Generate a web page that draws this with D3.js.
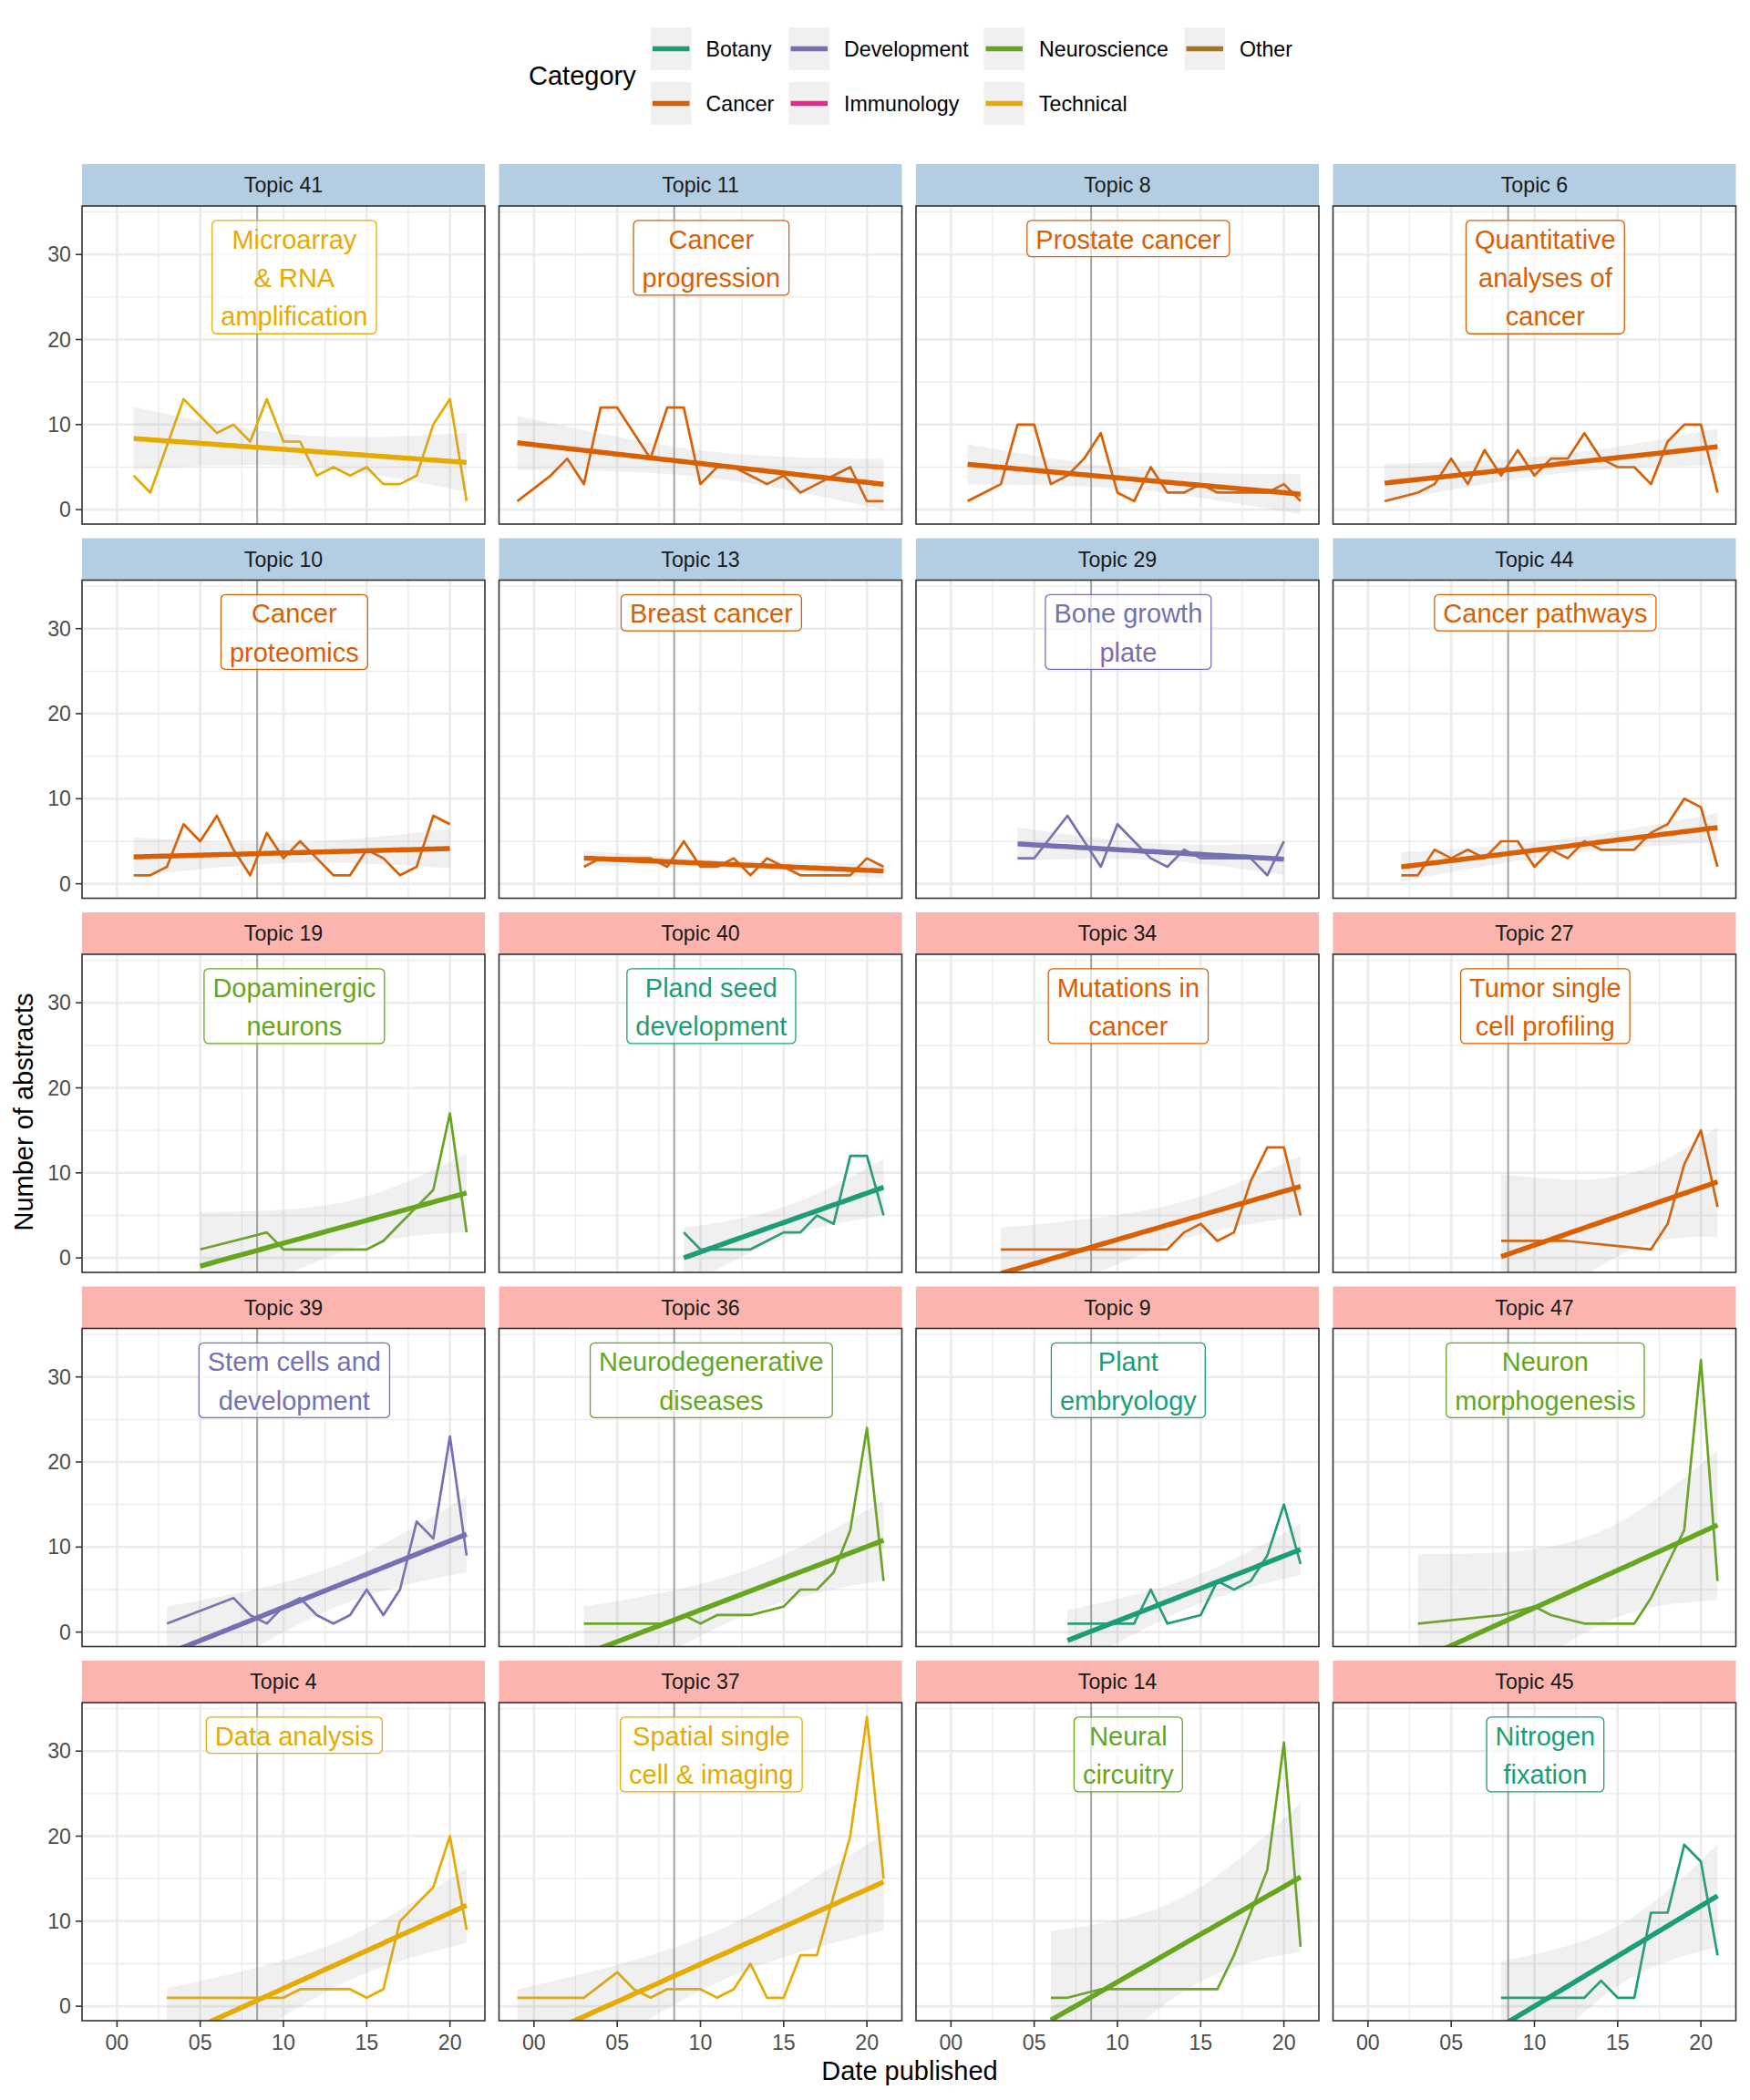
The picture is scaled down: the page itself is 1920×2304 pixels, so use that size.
<!DOCTYPE html>
<html><head><meta charset="utf-8">
<script src="https://cdn.jsdelivr.net/npm/d3@7"></script>
<style>
body{margin:0;background:#fff}
svg text{font-family:"Liberation Sans",Arial,Helvetica,sans-serif}
</style>
</head><body>
<svg id="chart" width="1920" height="2304"></svg>
<script>
// ---------------- DATA ----------------
const categories = ["Botany","Development","Neuroscience","Other","Cancer","Immunology","Technical"];
const categoryColors = ["#1B9E77","#7570B3","#66A61E","#A6761D","#D95F02","#E7298A","#E6AB02"];
const legendColumns = [["Botany","Cancer"],["Development","Immunology"],["Neuroscience","Technical"],["Other"]];

const topics = ["Topic 41","Topic 11","Topic 8","Topic 6",
                "Topic 10","Topic 13","Topic 29","Topic 44",
                "Topic 19","Topic 40","Topic 34","Topic 27",
                "Topic 39","Topic 36","Topic 9","Topic 47",
                "Topic 4","Topic 37","Topic 14","Topic 45"];
const topicLabels = ["Microarray\n& RNA\namplification","Cancer\nprogression","Prostate cancer","Quantitative\nanalyses of\ncancer",
                     "Cancer\nproteomics","Breast cancer","Bone growth\nplate","Cancer pathways",
                     "Dopaminergic\nneurons","Pland seed\ndevelopment","Mutations in\ncancer","Tumor single\ncell profiling",
                     "Stem cells and\ndevelopment","Neurodegenerative\ndiseases","Plant\nembryology","Neuron\nmorphogenesis",
                     "Data analysis","Spatial single\ncell & imaging","Neural\ncircuitry","Nitrogen\nfixation"];
const topicCategories = ["Technical","Cancer","Cancer","Cancer",
                         "Cancer","Cancer","Development","Cancer",
                         "Neuroscience","Botany","Cancer","Cancer",
                         "Development","Neuroscience","Botany","Neuroscience",
                         "Technical","Technical","Neuroscience","Botany"];
const topicGroups = [0,0,0,0, 0,0,0,0, 1,1,1,1, 1,1,1,1, 1,1,1,1];
const stripFills = ["#B3CDE3","#FBB4AE"];

// [year since 2000, number of abstracts]
const topic41 = [[1,4],[2,2],[4,13],[5,11],[6,9],[7,10],[8,8],[9,13],[10,8],[11,8],[12,4],[13,5],[14,4],[15,5],[16,3],[17,3],[18,4],[19,10],[20,13],[21,1]];
const topic11 = [[-1,1],[1,4],[2,6],[3,3],[4,12],[5,12],[6,9],[7,6],[8,12],[9,12],[10,3],[11,5],[12,5],[13,4],[14,3],[15,4],[16,2],[17,3],[18,4],[19,5],[20,1],[21,1]];
const topic8  = [[1,1],[2,2],[3,3],[4,10],[5,10],[6,3],[7,4],[8,6],[9,9],[10,2],[11,1],[12,5],[13,2],[14,2],[15,3],[16,2],[17,2],[18,2],[19,2],[20,3],[21,1]];
const topic6  = [[1,1],[3,2],[4,3],[5,6],[6,3],[7,7],[8,4],[9,7],[10,4],[11,6],[12,6],[13,9],[14,6],[15,5],[16,5],[17,3],[18,8],[19,10],[20,10],[21,2]];
const topic10 = [[1,1],[2,1],[3,2],[4,7],[5,5],[6,8],[7,4],[8,1],[9,6],[10,3],[11,5],[12,3],[13,1],[14,1],[15,4],[16,3],[17,1],[18,2],[19,8],[20,7]];
const topic13 = [[3,2],[4,3],[5,3],[6,3],[7,3],[8,2],[9,5],[10,2],[11,2],[12,3],[13,1],[14,3],[15,2],[16,1],[17,1],[18,1],[19,1],[20,3],[21,2]];
const topic29 = [[4,3],[5,3],[7,8],[8,5],[9,2],[10,7],[11,5],[12,3],[13,2],[14,4],[15,3],[16,3],[17,3],[18,3],[19,1],[20,5]];
const topic44 = [[2,1],[3,1],[4,4],[5,3],[6,4],[7,3],[8,5],[9,5],[10,2],[11,4],[12,3],[13,5],[14,4],[15,4],[16,4],[17,6],[18,7],[19,10],[20,9],[21,2]];
const topic19 = [[5,1],[9,3],[10,1],[12,1],[15,1],[16,2],[17,4],[18,6],[19,8],[20,17],[21,3]];
const topic40 = [[9,3],[10,1],[11,1],[13,1],[14,2],[15,3],[16,3],[17,5],[18,4],[19,12],[20,12],[21,5]];
const topic34 = [[3,1],[7,1],[10,1],[13,1],[14,3],[15,4],[16,2],[17,3],[18,9],[19,13],[20,13],[21,5]];
const topic27 = [[8,2],[12,2],[17,1],[18,4],[19,11],[20,15],[21,6]];
const topic39 = [[3,1],[7,4],[8,2],[9,1],[10,3],[11,4],[12,2],[13,1],[14,2],[15,5],[16,2],[17,5],[18,13],[19,11],[20,23],[21,9]];
const topic36 = [[3,1],[5,1],[8,1],[9,2],[10,1],[11,2],[12,2],[13,2],[15,3],[16,5],[17,5],[18,7],[19,12],[20,24],[21,6]];
const topic9  = [[7,1],[9,1],[11,1],[12,5],[13,1],[15,2],[16,6],[17,5],[18,6],[19,9],[20,15],[21,8]];
const topic47 = [[3,1],[8,2],[10,3],[11,2],[13,1],[16,1],[17,4],[18,8],[19,12],[20,32],[21,6]];
const topic4  = [[3,1],[7,1],[10,1],[11,2],[12,2],[13,2],[14,2],[15,1],[16,2],[17,10],[18,12],[19,14],[20,20],[21,9]];
const topic37 = [[-1,1],[1,1],[3,1],[5,4],[6,2],[7,1],[8,2],[9,2],[10,2],[11,1],[12,2],[13,5],[14,1],[15,1],[16,6],[17,6],[18,13],[19,20],[20,34],[21,15]];
const topic14 = [[6,1],[7,1],[9,2],[12,2],[16,2],[17,6],[18,11],[19,16],[20,31],[21,7]];
const topic45 = [[8,1],[10,1],[13,1],[14,3],[15,1],[16,1],[17,11],[18,11],[19,19],[20,17],[21,6]];

const topicSeries = [topic41,topic11,topic8,topic6,topic10,topic13,topic29,topic44,
                     topic19,topic40,topic34,topic27,topic39,topic36,topic9,topic47,
                     topic4,topic37,topic14,topic45];

const xTicks = [0,5,10,15,20];
const xTickLabels = ["00","05","10","15","20"];
const yTicks = [0,10,20,30];
const referenceYear = 8.42;
const xDataRange = [-1,21];
const yDataRange = [0,34];

// ---------------- LAYOUT ----------------
const W = 442, PH = 349, SH = 46;
const colX = [90, 547.5, 1005, 1462.5];
const rowY = [180, 590.5, 1001, 1411.5, 1822];
const FONT_BIG = 29, FONT_SMALL = 23.2;
const LABEL_X = 10.65, LABEL_TOP = 34;
const colorOf = c => categoryColors[categories.indexOf(c)];

const xPad = (xDataRange[1]-xDataRange[0])*0.05;
const yPad = (yDataRange[1]-yDataRange[0])*0.05;
const x = d3.scaleLinear().domain([xDataRange[0]-xPad, xDataRange[1]+xPad]).range([0, W]);
const y = d3.scaleLinear().domain([yDataRange[0]-yPad, yDataRange[1]+yPad]).range([PH, 0]);

const tTable = [NaN,12.706,4.303,3.182,2.776,2.571,2.447,2.365,2.306,2.262,2.228,2.201,2.179,2.160,2.145,2.131,2.120,2.110,2.101,2.093,2.086,2.080,2.074,2.069,2.064,2.060];
function lmFit(pts){
  const n = pts.length;
  const mx = d3.mean(pts, d=>d[0]), my = d3.mean(pts, d=>d[1]);
  let sxx=0, sxy=0;
  pts.forEach(([a,b])=>{ sxx += (a-mx)**2; sxy += (a-mx)*(b-my); });
  const slope = sxy/sxx, icpt = my - slope*mx;
  let sse = 0;
  pts.forEach(([a,b])=>{ sse += (b - icpt - slope*a)**2; });
  const s = Math.sqrt(sse/(n-2));
  const t = tTable[n-2] || 1.96;
  const [x0,x1] = d3.extent(pts, d=>d[0]);
  return d3.range(80).map(i=>{
    const xv = x0 + (x1-x0)*i/79;
    const f = icpt + slope*xv;
    const se = s*Math.sqrt(1/n + (xv-mx)**2/sxx);
    return {x:xv, f, lo:f-t*se, hi:f+t*se};
  });
}

const svg = d3.select("#chart");
svg.append("rect").attr("width",1920).attr("height",2304).attr("fill","#fff");
const defs = svg.append("defs");
defs.append("clipPath").attr("id","panelClip").append("rect").attr("width",W).attr("height",PH);

const xMinor = [-2.5,2.5,7.5,12.5,17.5,22.5].filter(v=>v>=x.domain()[0] && v<=x.domain()[1]);
const yMinor = [5,15,25,35];

topics.forEach((name,i)=>{
  const r = Math.floor(i/4), c = i%4;
  const gx = colX[c], gy = rowY[r];
  const col = colorOf(topicCategories[i]);
  const data = topicSeries[i];

  // strip
  svg.append("rect").attr("x",gx).attr("y",gy).attr("width",W).attr("height",SH)
     .attr("fill",stripFills[topicGroups[i]]);
  svg.append("text").attr("x",gx+W/2).attr("y",gy+SH/2).attr("text-anchor","middle")
     .attr("dominant-baseline","central").attr("font-size",FONT_SMALL).attr("fill","#1A1A1A").text(name);

  const g = svg.append("g").attr("transform",`translate(${gx},${gy+SH})`);
  g.append("rect").attr("width",W).attr("height",PH).attr("fill","#fff");
  const pg = g.append("g").attr("clip-path","url(#panelClip)");

  // grid
  pg.selectAll(".ym").data(yMinor).join("line").attr("x1",0).attr("x2",W)
    .attr("y1",d=>y(d)).attr("y2",d=>y(d)).attr("stroke","#EBEBEB").attr("stroke-width",1.3);
  pg.selectAll(".xm").data(xMinor).join("line").attr("y1",0).attr("y2",PH)
    .attr("x1",d=>x(d)).attr("x2",d=>x(d)).attr("stroke","#EBEBEB").attr("stroke-width",1.3);
  pg.selectAll(".yM").data(yTicks).join("line").attr("x1",0).attr("x2",W)
    .attr("y1",d=>y(d)).attr("y2",d=>y(d)).attr("stroke","#EBEBEB").attr("stroke-width",2.6);
  pg.selectAll(".xM").data(xTicks).join("line").attr("y1",0).attr("y2",PH)
    .attr("x1",d=>x(d)).attr("x2",d=>x(d)).attr("stroke","#EBEBEB").attr("stroke-width",2.6);

  // reference vertical line
  pg.append("line").attr("x1",x(referenceYear)).attr("x2",x(referenceYear)).attr("y1",0).attr("y2",PH)
    .attr("stroke","#A3A3A3").attr("stroke-width",2);

  // data line
  pg.append("path").datum(data)
    .attr("d", d3.line().x(d=>x(d[0])).y(d=>y(d[1])))
    .attr("fill","none").attr("stroke",col).attr("stroke-width",2.7).attr("stroke-linejoin","round");

  // smooth (lm with 95% CI)
  const fit = lmFit(data);
  pg.append("path").datum(fit)
    .attr("d", d3.area().x(d=>x(d.x)).y0(d=>y(d.lo)).y1(d=>y(d.hi)))
    .attr("fill","#999999").attr("fill-opacity",0.15);
  pg.append("path").datum(fit)
    .attr("d", d3.line().x(d=>x(d.x)).y(d=>y(d.f)))
    .attr("fill","none").attr("stroke",col).attr("stroke-width",5.5);

  // label
  const lines = topicLabels[i].split("\n");
  const lg = pg.append("g");
  const box = lg.append("rect");
  const top = y(LABEL_TOP);
  const txt = lg.selectAll("text").data(lines).join("text")
    .attr("x", x(LABEL_X)).attr("y",(d,k)=>top+21+42.3*k).attr("text-anchor","middle")
    .attr("dominant-baseline","central").attr("font-size",FONT_BIG).attr("fill",col).text(d=>d);
  let wmax = 0; txt.each(function(){ wmax = Math.max(wmax, this.getComputedTextLength()); });
  const bw = wmax + 19, bh = 42.3*lines.length - 2.5;
  box.attr("x", x(LABEL_X)-bw/2).attr("y", top).attr("width",bw).attr("height",bh)
     .attr("rx",5).attr("ry",5).attr("fill","#fff").attr("fill-opacity",0.65)
     .attr("stroke",col).attr("stroke-width",1.3);

  // border
  g.append("rect").attr("width",W).attr("height",PH).attr("fill","none")
   .attr("stroke","#333333").attr("stroke-width",1.6);

  // y axis
  if (c === 0) {
    yTicks.forEach(v=>{
      g.append("line").attr("x1",-7).attr("x2",0).attr("y1",y(v)).attr("y2",y(v)).attr("stroke","#333").attr("stroke-width",1.6);
      g.append("text").attr("x",-12).attr("y",y(v)).attr("text-anchor","end").attr("dominant-baseline","central")
       .attr("font-size",FONT_SMALL).attr("fill","#4D4D4D").text(v);
    });
  }
  // x axis
  if (r === 4) {
    xTicks.forEach((v,k)=>{
      g.append("line").attr("x1",x(v)).attr("x2",x(v)).attr("y1",PH).attr("y2",PH+7).attr("stroke","#333").attr("stroke-width",1.6);
      g.append("text").attr("x",x(v)).attr("y",PH+24).attr("text-anchor","middle").attr("dominant-baseline","central")
       .attr("font-size",FONT_SMALL).attr("fill","#4D4D4D").text(xTickLabels[k]);
    });
  }
});

// axis titles
svg.append("text").attr("x",998).attr("y",2272).attr("text-anchor","middle").attr("dominant-baseline","central")
   .attr("font-size",FONT_BIG).attr("fill","#000").text("Date published");
svg.append("text").attr("transform","translate(26,1220) rotate(-90)").attr("text-anchor","middle")
   .attr("dominant-baseline","central").attr("font-size",FONT_BIG).attr("fill","#000").text("Number of abstracts");

// legend
const lgd = svg.append("g");
lgd.append("text").attr("x",580).attr("y",83).attr("dominant-baseline","central")
   .attr("font-size",FONT_BIG).attr("fill","#000").text("Category");
const keyX = [714, 865.5, 1079.5, 1299.5];
const keyY = [30, 90];
const keyW = 44.5, keyH = 47;
legendColumns.forEach((colItems,ci)=>{
  colItems.forEach((cat,ri)=>{
    const kx = keyX[ci], ky = keyY[ri];
    lgd.append("rect").attr("x",kx).attr("y",ky).attr("width",keyW).attr("height",keyH).attr("fill","#F0F0F0");
    lgd.append("line").attr("x1",kx+2).attr("x2",kx+keyW-2).attr("y1",ky+keyH/2).attr("y2",ky+keyH/2)
       .attr("stroke",colorOf(cat)).attr("stroke-width",5.5);
    lgd.append("text").attr("x",kx+60.5).attr("y",ky+keyH/2).attr("dominant-baseline","central")
       .attr("font-size",FONT_SMALL).attr("fill","#000").text(cat);
  });
});
</script>
</body></html>
